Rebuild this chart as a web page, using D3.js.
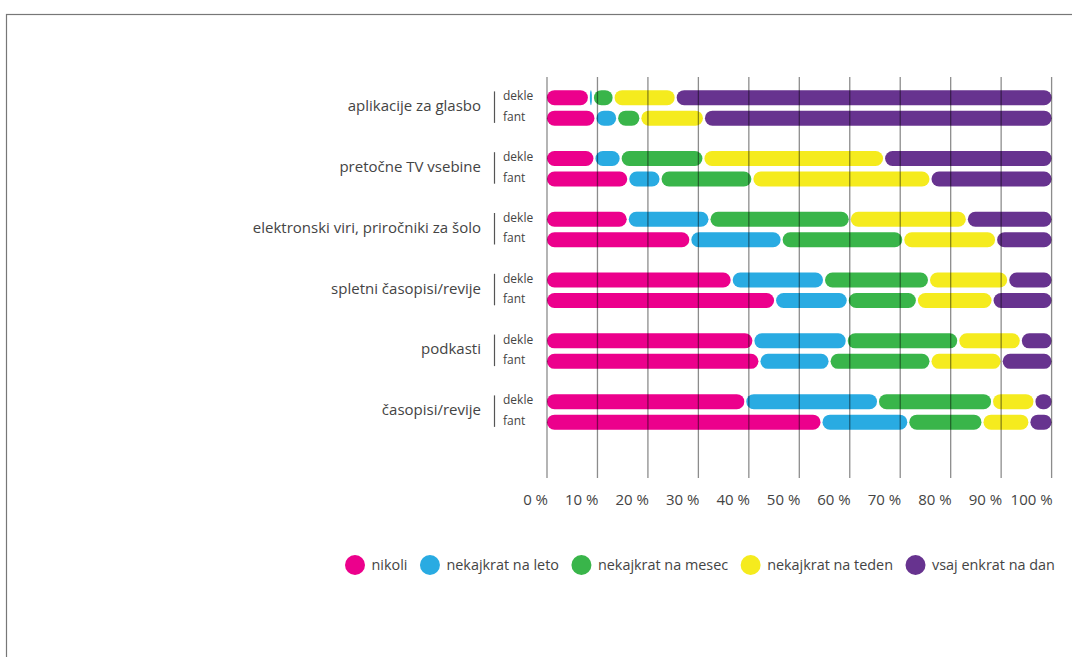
<!DOCTYPE html>
<html>
<head>
<meta charset="utf-8">
<script src="https://cdn.jsdelivr.net/npm/d3@7"></script>
<style>
  html, body { margin: 0; padding: 0; background: #fff; }
  svg { display: block; font-family: "Open Sans", "Noto Sans", sans-serif; }
</style>
</head>
<body>
<svg id="chart" width="1072" height="657"></svg>
<script>
// ---- data ----
const categories = [
  "aplikacije za glasbo",
  "pretočne TV vsebine",
  "elektronski viri, priročniki za šolo",
  "spletni časopisi/revije",
  "podkasti",
  "časopisi/revije"
];
const genders = ["dekle", "fant"];
const seriesNames = ["nikoli", "nekajkrat na leto", "nekajkrat na mesec", "nekajkrat na teden", "vsaj enkrat na dan"];
// rows ordered: category x gender (dekle, fant)
const nikoli = [8.3, 9.6, 9.4, 16.1, 16.0, 28.4, 36.6, 45.2, 40.9, 42.1, 39.3, 54.4];
const nekajkratNaLeto = [0.8, 4.3, 5.2, 6.4, 16.2, 18.1, 18.3, 14.4, 18.5, 13.9, 26.3, 17.2];
const nekajkratNaMesec = [4.1, 4.6, 16.4, 18.2, 27.8, 24.1, 20.8, 13.7, 22.1, 20.0, 22.6, 14.7];
const nekajkratNaTeden = [12.3, 12.6, 35.8, 35.3, 23.2, 18.4, 15.7, 15.0, 12.4, 14.1, 8.4, 9.3];
const vsajEnkratNaDan = [74.5, 68.9, 33.2, 24.0, 16.8, 11.0, 8.6, 11.7, 6.1, 9.9, 3.4, 4.4];
const tickValues = [0, 10, 20, 30, 40, 50, 60, 70, 80, 90, 100];
const tickLabels = ["0 %", "10 %", "20 %", "30 %", "40 %", "50 %", "60 %", "70 %", "80 %", "90 %", "100 %"];
const colors = ["#EC008C", "#29ABE2", "#39B54A", "#F5EB1E", "#67338F"];

// ---- build rows ----
const seriesValues = [nikoli, nekajkratNaLeto, nekajkratNaMesec, nekajkratNaTeden, vsajEnkratNaDan];
const rows = [];
categories.forEach((c, ci) => {
  genders.forEach((g, gi) => {
    const idx = ci * 2 + gi;
    const row = { category: c, gender: g };
    seriesNames.forEach((s, si) => row[s] = seriesValues[si][idx]);
    rows.push(row);
  });
});
const stacked = d3.stack().keys(seriesNames)(rows);

const svg = d3.select("#chart");

// frame
svg.append("rect").attr("x", 6.5).attr("y", 14.5).attr("width", 1100).attr("height", 700)
  .attr("fill", "none").attr("stroke", "#777").attr("stroke-width", 1.2);

const x = d3.scaleLinear().domain([0, 100]).range([547, 1051.6]);
const yCat = d3.scaleBand().domain(categories).range([77.5, 77.5 + 6 * 60.8]);
const yG = d3.scaleBand().domain(genders).range([-20.5, 20.5]);
const barH = 15;
const rowCenter = d => yCat(d.category) + yCat.bandwidth() / 2 + yG(d.gender) + yG.bandwidth() / 2;

// bars
const layer = svg.append("g");
stacked.forEach((s, si) => {
  layer.append("g").attr("fill", colors[si])
    .selectAll("rect").data(s).join("rect")
    .attr("x", d => x(d[0]) + (d[0] > 0 ? 1 : 0))
    .attr("width", d => {
      const w = x(d[1]) - x(d[0]) - (d[0] > 0 ? 1 : 0) - (d[1] < 100 ? 1 : 0);
      return Math.max(w, 0.5);
    })
    .attr("y", d => rowCenter(d.data) - barH / 2)
    .attr("height", barH)
    .attr("rx", d => Math.min(7.5, Math.max((x(d[1]) - x(d[0]) - 2) / 2, 0.5)))
    .attr("ry", 7.5);
});

// gridlines on top
svg.append("g").selectAll("line").data(tickValues).join("line")
  .attr("x1", d => x(d)).attr("x2", d => x(d))
  .attr("y1", 77).attr("y2", 478)
  .attr("stroke", "#000").attr("stroke-opacity", 0.45).attr("stroke-width", 1.3);

// tick labels
svg.append("g").selectAll("text").data(tickValues).join("text")
  .attr("x", d => x(d) + 1).attr("y", 505)
  .attr("text-anchor", "end")
  .attr("font-size", 15).attr("fill", "#444")
  .text((d, i) => tickLabels[i]);

// category labels
const catG = svg.append("g");
categories.forEach(c => {
  const cy = yCat(c) + yCat.bandwidth() / 2;
  catG.append("text").attr("x", 481).attr("y", cy - 2).attr("dy", "0.35em")
    .attr("text-anchor", "end").attr("font-size", 15).attr("fill", "#444").text(c);
  catG.append("line").attr("x1", 494.5).attr("x2", 494.5)
    .attr("y1", cy - 16.5).attr("y2", cy + 15)
    .attr("stroke", "#555").attr("stroke-width", 1.2);
  genders.forEach(g => {
    const gy = cy + yG(g) + yG.bandwidth() / 2;
    catG.append("text").attr("x", 503).attr("y", gy - 1.5).attr("dy", "0.35em")
      .attr("font-size", 12).attr("fill", "#444").text(g);
  });
});

// legend
const leg = svg.append("g");
let cx = 355;
seriesNames.forEach((s, i) => {
  leg.append("circle").attr("cx", cx).attr("cy", 565).attr("r", 10).attr("fill", colors[i]);
  const t = leg.append("text").attr("x", cx + 16.5).attr("y", 565).attr("dy", "0.35em")
    .attr("font-size", 14.4).attr("fill", "#444").text(s);
  const w = t.node().getComputedTextLength();
  cx = cx + 16.5 + w + 22.5;
});
</script>
</body>
</html>
